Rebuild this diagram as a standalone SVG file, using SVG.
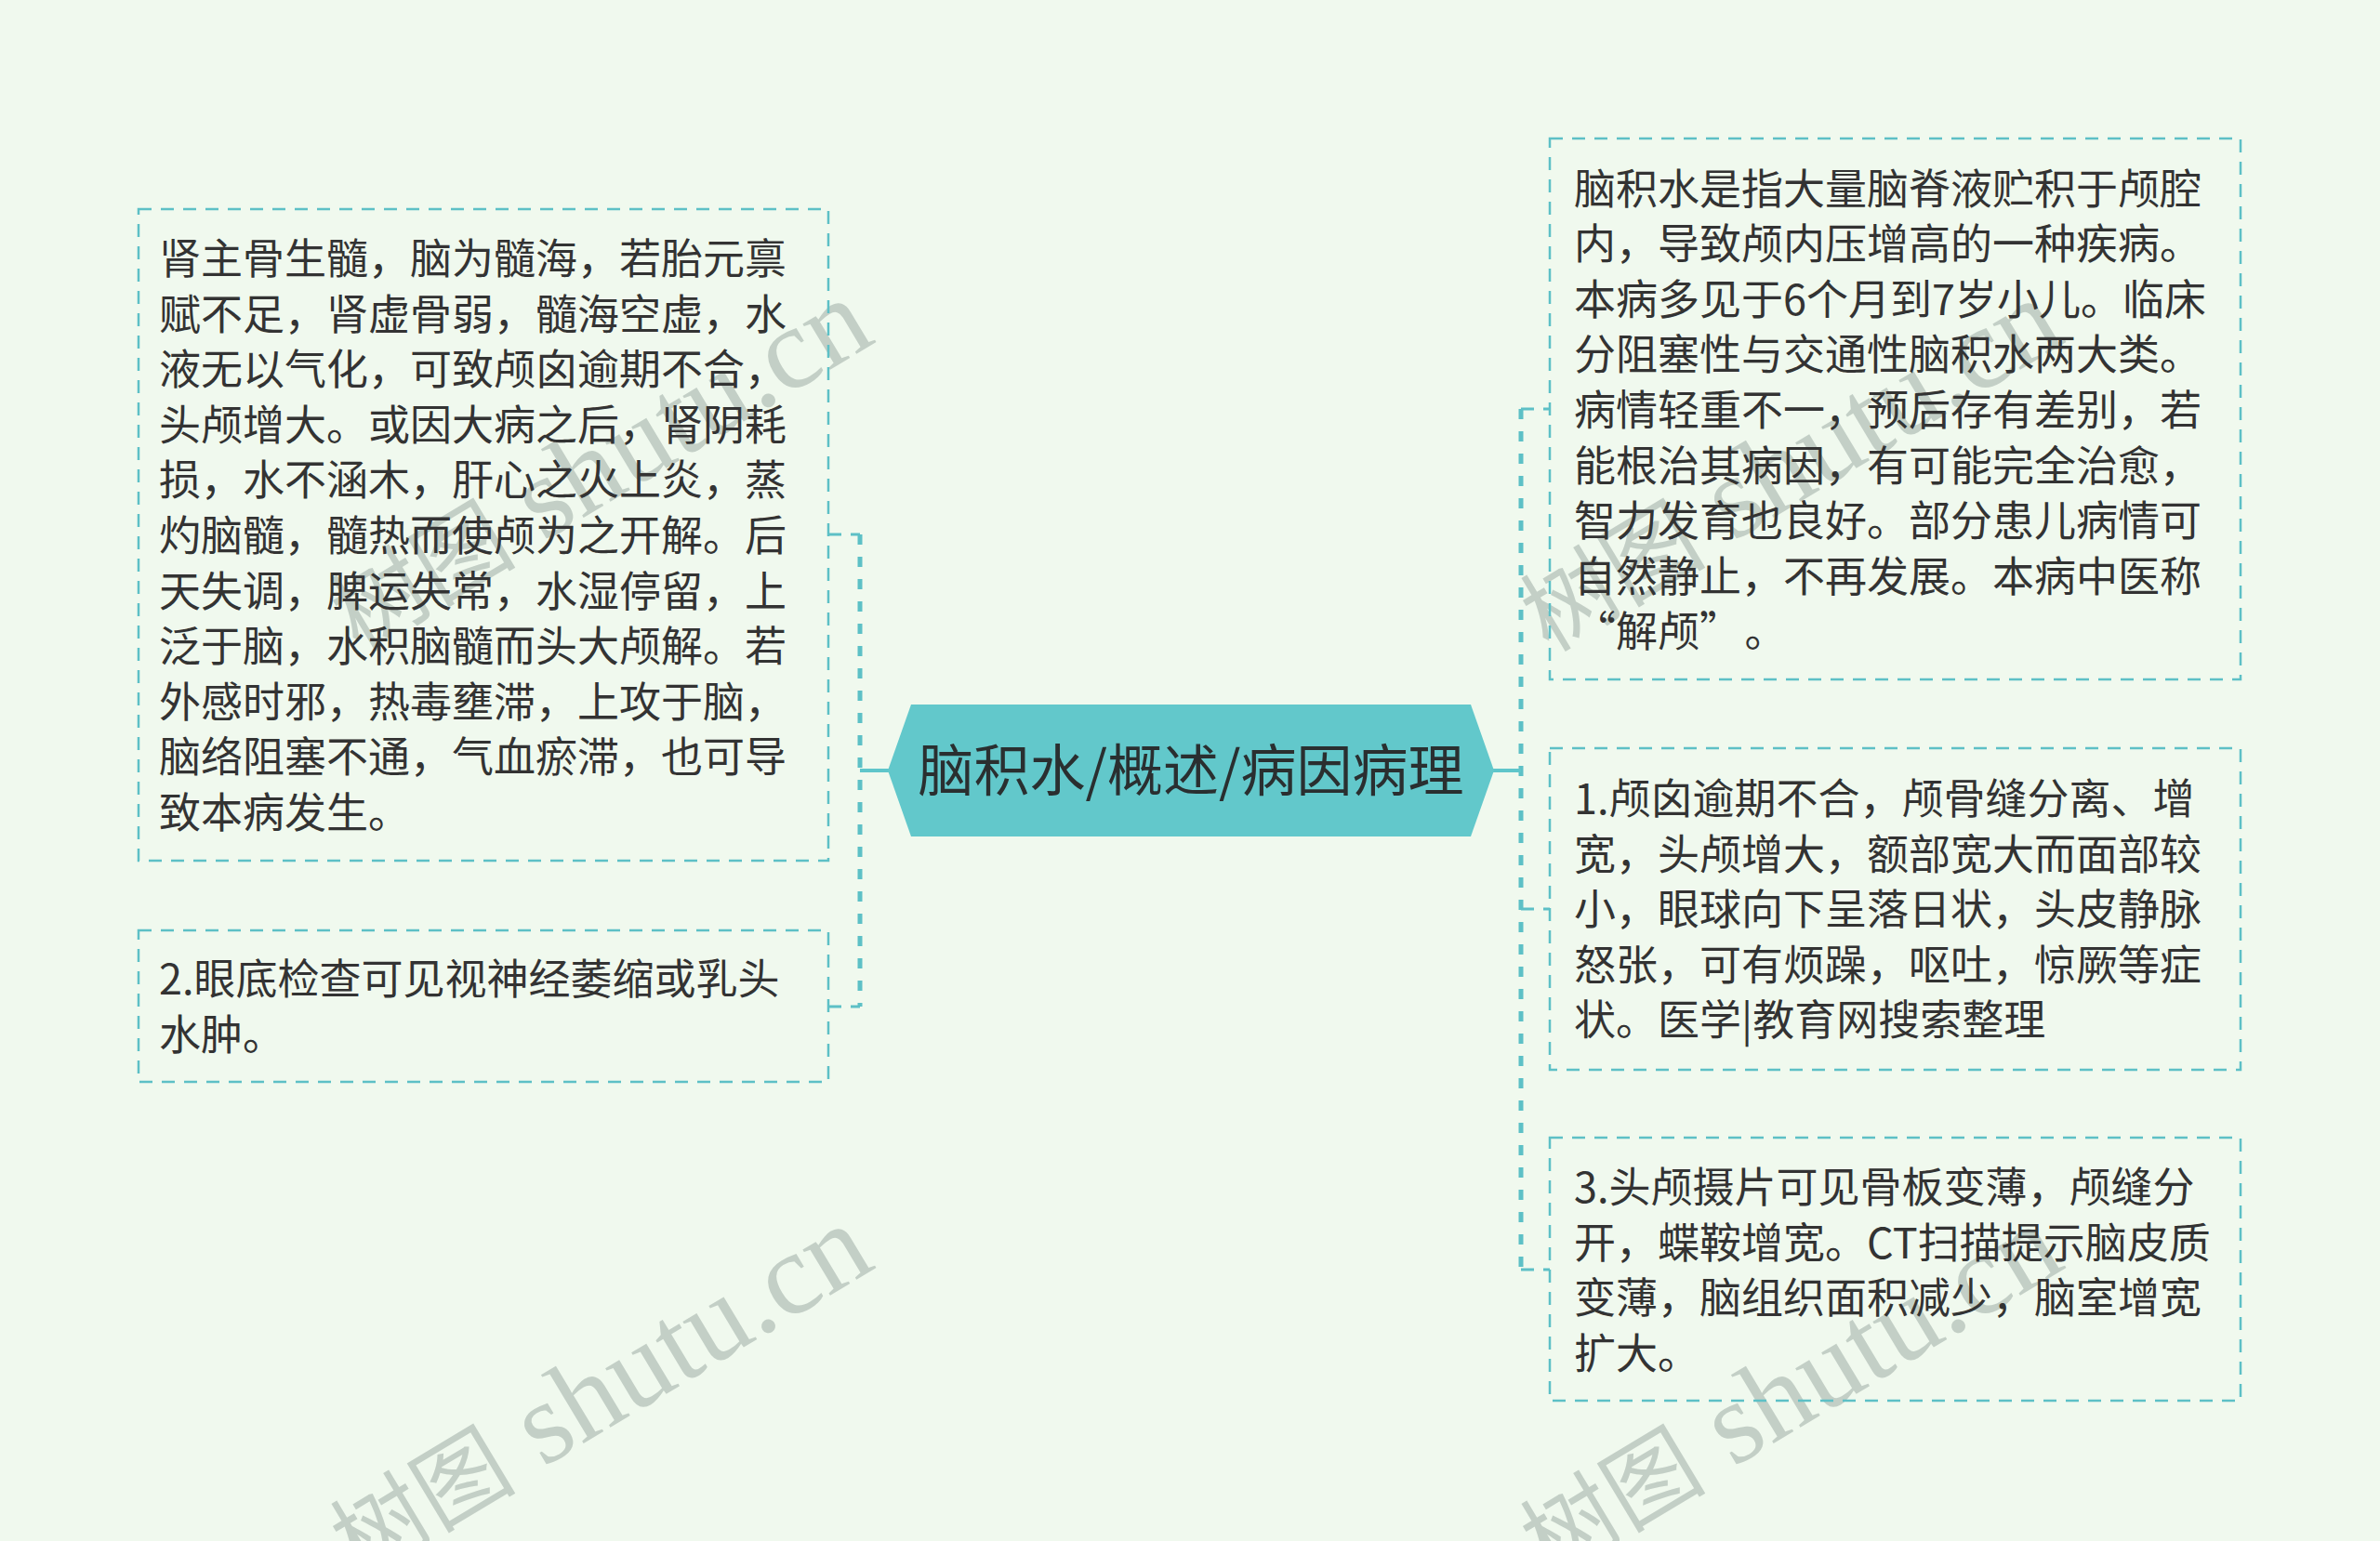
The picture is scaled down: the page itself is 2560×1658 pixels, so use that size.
<svg xmlns="http://www.w3.org/2000/svg" width="2560" height="1658" viewBox="0 0 2560 1658">
<style>
.bg{fill:#f0f9ee}
.box{fill:none;stroke:#5dc0c6;stroke-width:2.5;stroke-dasharray:14 10}
.txt{font-family:"Noto Sans CJK SC","Noto Sans",sans-serif;font-size:45px;fill:#333333}
.ctxt{font-family:"Noto Sans CJK SC","Noto Sans",sans-serif;font-size:60px;fill:#2a2f30;text-anchor:middle}
.trunk{fill:none;stroke:#5dc0c6;stroke-width:5;stroke-dasharray:11 13}
.stub{fill:none;stroke:#5dc0c6;stroke-width:3;stroke-dasharray:14 10}
.solid{fill:none;stroke:#5fc6ca;stroke-width:4}
.wm{font-family:"Liberation Serif","Noto Sans CJK SC",serif;font-size:125px;fill:#c3cfc6;text-anchor:end}
.wmc{font-family:"Noto Sans CJK SC",serif;font-size:100px}
</style>
<rect class="bg" x="0" y="0" width="2560" height="1658"/>
<g id="watermarks">
<text class="wm" transform="translate(944,367) rotate(-31)"><tspan class="wmc">树图</tspan> shutu.cn</text>
<text class="wm" transform="translate(944,1363) rotate(-31)"><tspan class="wmc">树图</tspan> shutu.cn</text>
<text class="wm" transform="translate(2224,367) rotate(-31)"><tspan class="wmc">树图</tspan> shutu.cn</text>
<text class="wm" transform="translate(2224,1363) rotate(-31)"><tspan class="wmc">树图</tspan> shutu.cn</text>
</g>
<g id="connectors">
<path class="trunk" d="M925,575 V1083"/>
<path class="stub" d="M891,575 H925"/>
<path class="stub" d="M891,1083 H925"/>
<path class="solid" d="M925,829 H957"/>
<path class="trunk" d="M1636,440 V1366"/>
<path class="stub" d="M1636,440 H1667"/>
<path class="stub" d="M1636,978 H1667"/>
<path class="stub" d="M1636,1366 H1667"/>
<path class="solid" d="M1606,829 H1636"/>
</g>
<g id="center">
<polygon points="955,829 980,758 1582,758 1607,829 1582,900 980,900" fill="#62c8cb"/>
<text class="ctxt" x="1281" y="851">脑积水/概述/病因病理</text>
</g>
<g id="left1">
<rect class="box" x="149" y="225" width="742" height="701"/>
<text class="txt">
<tspan x="171" y="295">肾主骨生髓，脑为髓海，若胎元禀</tspan>
<tspan x="171" y="354.6">赋不足，肾虚骨弱，髓海空虚，水</tspan>
<tspan x="171" y="414.2">液无以气化，可致颅囟逾期不合，</tspan>
<tspan x="171" y="473.8">头颅增大。或因大病之后，肾阴耗</tspan>
<tspan x="171" y="533.4">损，水不涵木，肝心之火上炎，蒸</tspan>
<tspan x="171" y="593">灼脑髓，髓热而使颅为之开解。后</tspan>
<tspan x="171" y="652.6">天失调，脾运失常，水湿停留，上</tspan>
<tspan x="171" y="712.2">泛于脑，水积脑髓而头大颅解。若</tspan>
<tspan x="171" y="771.8">外感时邪，热毒壅滞，上攻于脑，</tspan>
<tspan x="171" y="831.4">脑络阻塞不通，气血瘀滞，也可导</tspan>
<tspan x="171" y="891">致本病发生。</tspan>
</text>
</g>
<g id="left2">
<rect class="box" x="149" y="1001" width="742" height="163"/>
<text class="txt">
<tspan x="171" y="1070">2.眼底检查可见视神经萎缩或乳头</tspan>
<tspan x="171" y="1129.6">水肿。</tspan>
</text>
</g>
<g id="right1">
<rect class="box" x="1667" y="149" width="743" height="582"/>
<text class="txt">
<tspan x="1693" y="219.5">脑积水是指大量脑脊液贮积于颅腔</tspan>
<tspan x="1693" y="279.1">内，导致颅内压增高的一种疾病。</tspan>
<tspan x="1693" y="338.7">本病多见于6个月到7岁小儿。临床</tspan>
<tspan x="1693" y="398.3">分阻塞性与交通性脑积水两大类。</tspan>
<tspan x="1693" y="457.9">病情轻重不一，预后存有差别，若</tspan>
<tspan x="1693" y="517.5">能根治其病因，有可能完全治愈，</tspan>
<tspan x="1693" y="577.1">智力发育也良好。部分患儿病情可</tspan>
<tspan x="1693" y="636.7">自然静止，不再发展。本病中医称</tspan>
<tspan x="1693" y="696.3">“解颅”</tspan><tspan dx="26">。</tspan>
</text>
</g>
<g id="right2">
<rect class="box" x="1667" y="805" width="743" height="346"/>
<text class="txt">
<tspan x="1693" y="876">1.颅囟逾期不合，颅骨缝分离、增</tspan>
<tspan x="1693" y="935.6">宽，头颅增大，额部宽大而面部较</tspan>
<tspan x="1693" y="995.2">小，眼球向下呈落日状，头皮静脉</tspan>
<tspan x="1693" y="1054.8">怒张，可有烦躁，呕吐，惊厥等症</tspan>
<tspan x="1693" y="1114.4">状。医学|教育网搜索整理</tspan>
</text>
</g>
<g id="right3">
<rect class="box" x="1667" y="1224" width="743" height="283"/>
<text class="txt">
<tspan x="1693" y="1294">3.头颅摄片可见骨板变薄，颅缝分</tspan>
<tspan x="1693" y="1353.6">开，蝶鞍增宽。CT扫描提示脑皮质</tspan>
<tspan x="1693" y="1413.2">变薄，脑组织面积减少，脑室增宽</tspan>
<tspan x="1693" y="1472.8">扩大。</tspan>
</text>
</g>
</svg>
